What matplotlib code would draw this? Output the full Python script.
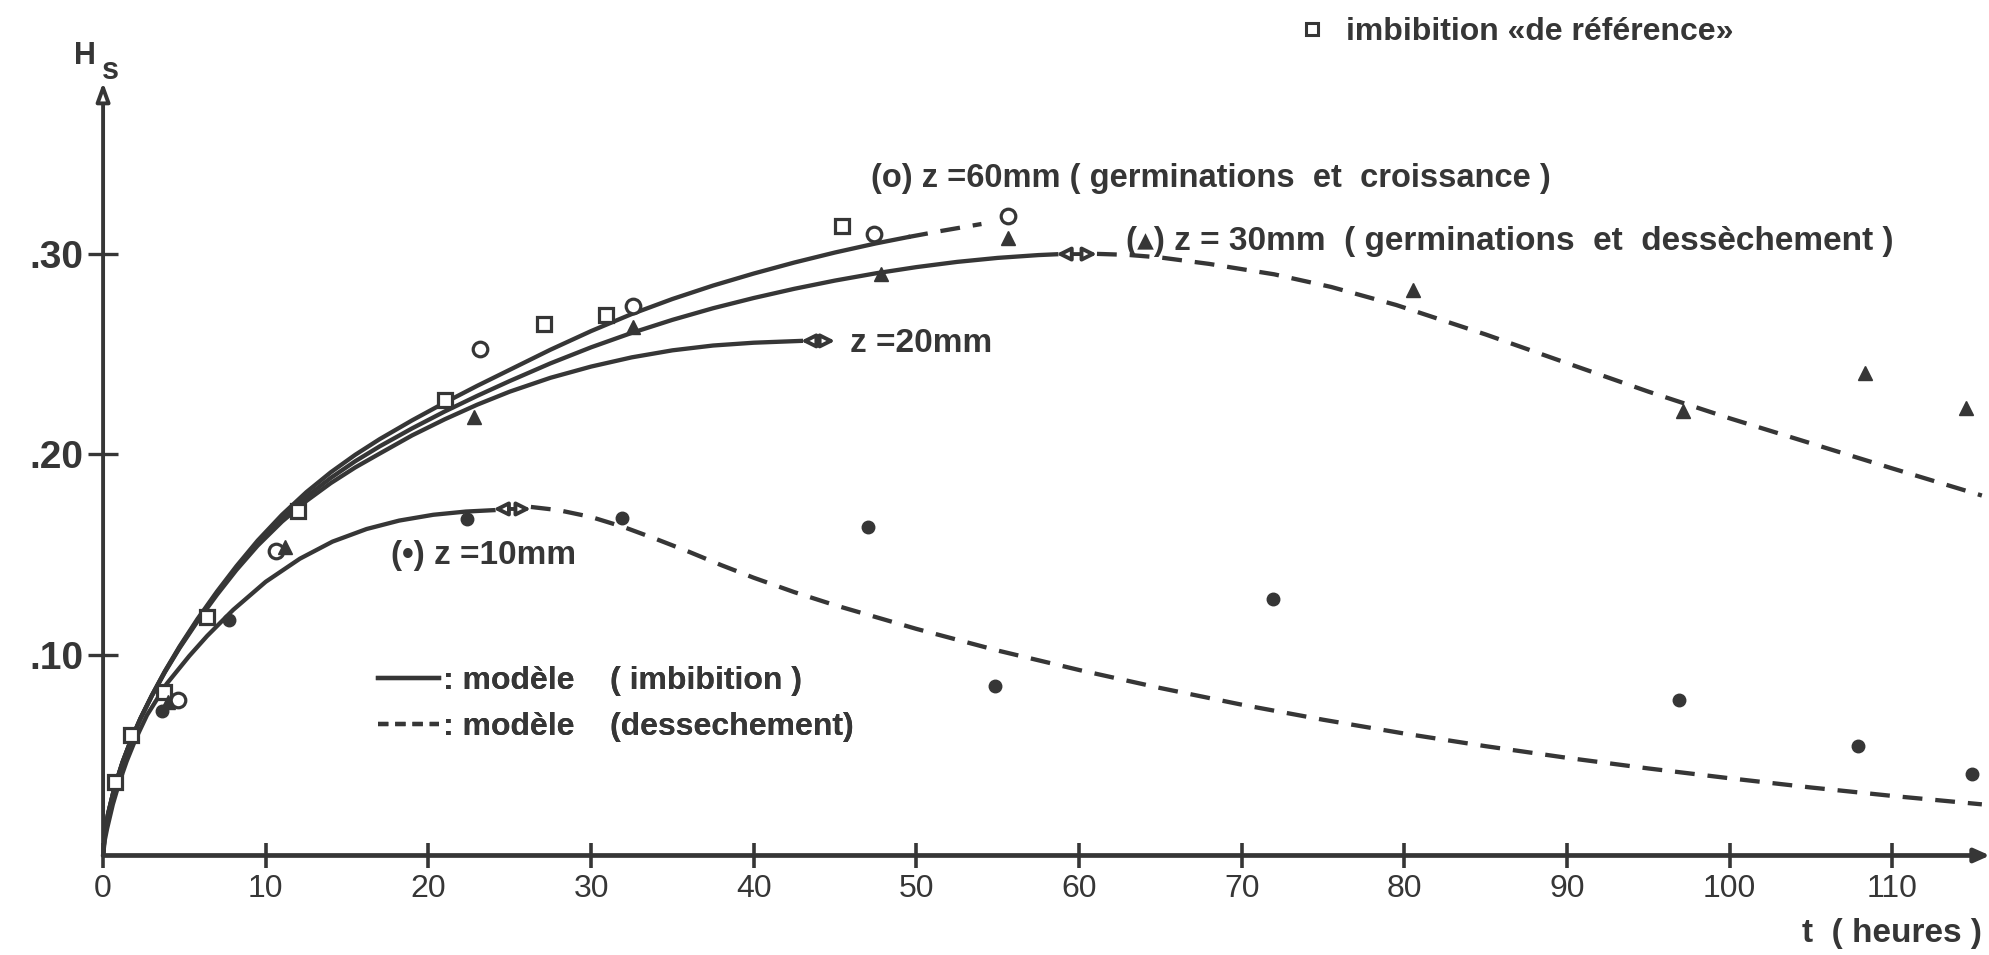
import matplotlib
matplotlib.use("Agg")
import matplotlib.pyplot as plt
from matplotlib.lines import Line2D

plt.rcParams['font.family'] = ['Liberation Sans', 'DejaVu Sans']

ink = '#363636'

# measured points : t (heures), Hs
t_ref = [0.74, 1.70, 3.74, 6.36, 11.97, 21.0, 27.1, 30.9, 45.4]
h_ref = [0.0368, 0.060, 0.0817, 0.1187, 0.1717, 0.227, 0.2652, 0.2695, 0.314]

t_z60 = [4.58, 10.6, 23.2, 32.6, 47.4, 55.6]
h_z60 = [0.0775, 0.152, 0.2527, 0.2738, 0.310, 0.3187]

t_z30 = [4.0, 11.2, 22.8, 32.6, 47.8, 55.6, 80.5, 97.1, 108.3, 114.5]
h_z30 = [0.0767, 0.1538, 0.2186, 0.2634, 0.2902, 0.308, 0.282, 0.2215, 0.2405, 0.2231]

t_z10 = [3.64, 7.75, 22.4, 31.9, 47.0, 54.85, 71.9, 96.9, 107.9, 114.9]
h_z10 = [0.0722, 0.1174, 0.168, 0.1682, 0.164, 0.0845, 0.128, 0.0775, 0.0548, 0.0405]

# model curves (imbibition)
t_m60 = [0, 0.1, 0.3, 0.7, 1.2, 1.7, 2.3, 3.0, 3.8, 4.7, 5.8, 7.0, 8.2, 9.5, 11.0,
         12.5, 14.0, 15.5, 17.0, 19.0, 21.0, 23.0, 25.0, 27.5, 30.0, 32.5, 35.0,
         37.5, 40.0, 42.5, 45.0, 47.5, 49.5]
h_m60 = [0, 0.0107, 0.0205, 0.0339, 0.0466, 0.0572, 0.0684, 0.0799, 0.0919, 0.1042,
         0.1179, 0.1316, 0.1443, 0.1570, 0.1699, 0.1812, 0.1911, 0.1998, 0.2076,
         0.2170, 0.2258, 0.2342, 0.2422, 0.2522, 0.2615, 0.2700, 0.2775, 0.2842,
         0.2902, 0.2957, 0.3007, 0.3052, 0.3084]
t_m60_ext = [49.5, 51.5, 54.0]
h_m60_ext = [0.3084, 0.3114, 0.3149]

t_m30 = [0, 0.1, 0.3, 0.7, 1.2, 1.7, 2.3, 3.0, 3.8, 4.7, 5.8, 7.0, 8.2, 9.5, 11.0,
         12.5, 14.0, 15.5, 17.0, 19.0, 21.0, 23.0, 25.0, 27.5, 30.0, 32.5, 35.0,
         37.5, 40.0, 42.5, 45.0, 47.5, 50.0, 52.5, 55.0, 57.5, 58.6]
h_m30 = [0, 0.0107, 0.0205, 0.0339, 0.0466, 0.0572, 0.0684, 0.0798, 0.0917, 0.1038,
         0.1173, 0.1308, 0.1435, 0.1555, 0.1680, 0.1789, 0.1883, 0.1966, 0.2040,
         0.2130, 0.2214, 0.2292, 0.2366, 0.2454, 0.2534, 0.2606, 0.2671, 0.2729,
         0.2780, 0.2826, 0.2867, 0.2903, 0.2934, 0.2960, 0.2980, 0.2994, 0.2998]

t_m20 = [0, 0.1, 0.3, 0.7, 1.2, 1.7, 2.3, 3.0, 3.8, 4.7, 5.8, 7.0, 8.2, 9.5, 11.0,
         12.5, 14.0, 15.5, 17.0, 19.0, 21.0, 23.0, 25.0, 27.5, 30.0, 32.5, 35.0,
         37.5, 40.0, 42.9]
h_m20 = [0, 0.0107, 0.0205, 0.0339, 0.0466, 0.0572, 0.0683, 0.0796, 0.0914, 0.1034,
         0.1167, 0.1300, 0.1424, 0.1545, 0.1665, 0.1768, 0.1857, 0.1935, 0.2004,
         0.2095, 0.2175, 0.2248, 0.2313, 0.2382, 0.2438, 0.2484, 0.2519, 0.2543,
         0.2557, 0.2566]

t_m10 = [0, 0.1, 0.25, 0.6, 1.0, 1.45, 2.0, 2.7, 3.9, 5.3, 6.4, 8.0, 10.0, 12.1,
         14.1, 16.2, 18.2, 20.3, 22.3, 24.0]
h_m10 = [0, 0.0075, 0.0135, 0.0255, 0.0365, 0.047, 0.058, 0.070, 0.0855, 0.0995,
         0.1095, 0.1225, 0.1365, 0.1480, 0.1565, 0.1628, 0.1670, 0.1699, 0.1715,
         0.1722]

# model curves (dessechement)
t_d30 = [61.1, 63.0, 65.0, 68.0, 72.0, 75.5, 79.5, 85.0, 90.0, 95.0, 100.0, 105.0,
         110.0, 115.5]
h_d30 = [0.3000, 0.2995, 0.2982, 0.2950, 0.2898, 0.2835, 0.2745, 0.2598, 0.2455,
         0.2313, 0.2180, 0.2055, 0.1930, 0.1795]

t_d10 = [26.3, 28.0, 30.0, 32.0, 34.0, 36.0, 38.0, 40.0, 42.5, 45.0, 50.0, 55.0,
         60.0, 65.0, 70.0, 75.0, 80.0, 85.0, 90.0, 95.0, 100.0, 105.0, 110.0, 115.5]
h_d10 = [0.1738, 0.1722, 0.1688, 0.1638, 0.1578, 0.1515, 0.1448, 0.1385, 0.1313,
         0.1248, 0.1130, 0.1022, 0.0925, 0.0835, 0.0752, 0.0677, 0.0608, 0.0545,
         0.0487, 0.0434, 0.0385, 0.0339, 0.0297, 0.0255]

# switch-over arrows (z = 10, 20, 30 mm)
arr_t0 = [24.0, 42.9, 58.6]
arr_t1 = [26.3, 45.0, 61.1]
arr_h = [0.1728, 0.2566, 0.2999]

x_ticks = [0, 10, 20, 30, 40, 50, 60, 70, 80, 90, 100, 110]
y_ticks = [0.10, 0.20, 0.30]
y_labels = ['.10', '.20', '.30']

fig = plt.figure(figsize=(19.9, 9.55), dpi=100)
ax = fig.add_axes([0.0518, 0.1042, 0.9482, 0.8095])
ax.set_xlim(0, 116.0)
ax.set_ylim(0, 0.3855)

lw = 3.1
dash = (0, (4.6, 3.0))

ax.plot(t_m60, h_m60, color=ink, lw=lw, zorder=3)
ax.plot(t_m60_ext, h_m60_ext, color=ink, lw=lw, ls=dash, zorder=3)
ax.plot(t_m30, h_m30, color=ink, lw=lw, zorder=3)
ax.plot(t_m20, h_m20, color=ink, lw=lw, zorder=3)
ax.plot(t_m10, h_m10, color=ink, lw=lw, zorder=3)
ax.plot(t_d30, h_d30, color=ink, lw=lw, ls=dash, zorder=3)
ax.plot(t_d10, h_d10, color=ink, lw=lw, ls=dash, zorder=3)

for a, b, h in zip(arr_t0, arr_t1, arr_h):
    ax.annotate('', xy=(b, h), xytext=(a, h),
                arrowprops=dict(arrowstyle='<|-|>,head_length=0.8,head_width=0.4',
                                ec=ink, fc='white', lw=2.8, shrinkA=0, shrinkB=0),
                zorder=4)

ax.plot(t_ref, h_ref, ls='none', marker='s', ms=9.5, mfc='white', mec=ink, mew=2.3, zorder=5)
ax.plot(t_z60, h_z60, ls='none', marker='o', ms=10.5, mfc='white', mec=ink, mew=2.3, zorder=5)
ax.plot(t_z30, h_z30, ls='none', marker='^', ms=9.5, color=ink, zorder=5)
ax.plot(t_z10, h_z10, ls='none', marker='o', ms=9, color=ink, zorder=5)

# axes drawn as arrows
for s in ax.spines.values():
    s.set_visible(False)
ax.annotate('', xy=(1.0, 0), xytext=(0, 0), xycoords='axes fraction',
            arrowprops=dict(arrowstyle='-|>,head_length=0.9,head_width=0.4',
                            color=ink, lw=3.4, shrinkA=0, shrinkB=0))
ax.annotate('', xy=(0, 1.0), xytext=(0, 0), xycoords='axes fraction',
            arrowprops=dict(arrowstyle='-|>,head_length=1.1,head_width=0.4',
                            ec=ink, fc='white', lw=2.8, shrinkA=0, shrinkB=0))

ax.set_xticks(x_ticks)
ax.set_xticklabels([str(v) for v in x_ticks])
ax.set_yticks(y_ticks)
ax.set_yticklabels(y_labels, fontweight='bold')
ax.tick_params(axis='x', direction='inout', length=18, width=2.6, colors=ink,
               labelsize=23, pad=4)
ax.tick_params(axis='y', direction='inout', length=22, width=2.4, colors=ink,
               labelsize=28, pad=3)

tk = dict(fontsize=24, fontweight='bold', color=ink, va='center', ha='left')
ax.text(47.2, 0.3377, '(o) z =60mm ( germinations  et  croissance )',
        **{**tk, 'fontsize': 23.5})
ax.text(62.9, 0.3063, '(▴) z = 30mm  ( germinations  et  dessèchement )', **tk)
ax.text(45.9, 0.2555, 'z =20mm', **tk)
ax.text(17.7, 0.1495, '(•) z =10mm', **tk)

fig.text(0.0425, 0.9414, 'H', fontsize=22, fontweight='bold', color=ink,
         ha='center', va='center')
fig.text(0.0555, 0.9260, 's', fontsize=22, fontweight='bold', color=ink,
         ha='center', va='center')
fig.text(0.996, 0.006, 't  ( heures )', fontsize=24, fontweight='bold',
         color=ink, ha='right', va='bottom')

# legend of the model lines
h_imb = Line2D([], [], color=ink, lw=lw)
h_des = Line2D([], [], color=ink, lw=lw, ls=(0, (2.4, 1.6)))
leg = ax.legend([h_imb, h_des],
                [': modèle    ( imbibition )', ': modèle    (dessechement)'],
                loc='center left', bbox_to_anchor=(0.1457, 0.1955),
                frameon=False, borderpad=0, borderaxespad=0,
                handlelength=1.9, handletextpad=0.15, labelspacing=0.5,
                prop=dict(size=23, weight='bold'))
for txt in leg.get_texts():
    txt.set_color(ink)
ax.add_artist(leg)

# legend of the reference series
h_sq = Line2D([], [], ls='none', marker='s', ms=8, mfc='white', mec=ink, mew=2.2)
leg2 = fig.legend([h_sq], ['imbibition «de référence»'], loc='center left',
                  bbox_to_anchor=(0.6515, 0.9665), frameon=False, borderpad=0,
                  borderaxespad=0, handlelength=1.0, handletextpad=0.55,
                  prop=dict(size=23, weight='bold'))
for txt in leg2.get_texts():
    txt.set_color(ink)

fig.savefig('out.png', dpi=100, facecolor='white')
